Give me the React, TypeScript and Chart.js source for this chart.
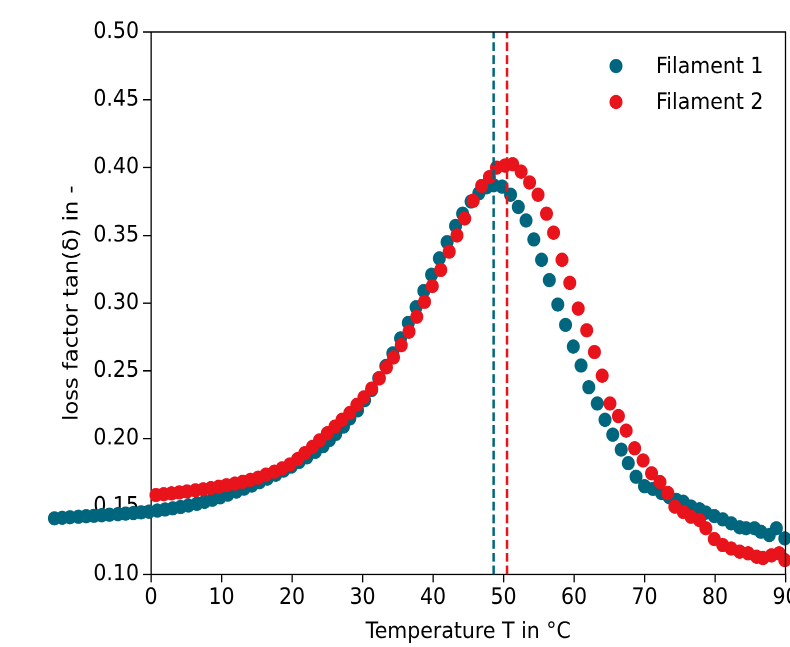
import React, { useEffect, useRef } from 'react';
import { Chart, registerables } from 'chart.js';

Chart.register(...registerables);

// ---- data ----
const seriesLabels = ['Filament 1', 'Filament 2'];
const seriesColors = ['#00667d', '#e8131b'];

const f1Temp = [
  -13.7, -12.6, -11.5, -10.3, -9.2, -8.1, -7.0, -5.9, -4.7, -3.6, -2.5, -1.4, -0.3,
  0.9, 2.0, 3.1, 4.2, 5.3, 6.5, 7.6, 8.7, 9.8, 10.9, 12.1, 13.2, 14.3, 15.4, 16.5, 17.7, 18.8, 19.9,
  21.0, 22.1, 23.3, 24.4, 25.3,
  26.2, 27.3, 28.2, 29.3, 30.3, 31.3, 32.3, 33.3, 34.3, 35.4, 36.5, 37.6, 38.7, 39.8, 40.9, 42.0, 43.2, 44.2, 45.4, 46.5, 47.6, 48.6,
  49.8, 51.0, 52.1, 53.2, 54.3, 55.4, 56.5, 57.7, 58.8, 59.9, 61.0, 62.1, 63.3, 64.4, 65.5, 66.7, 67.7, 68.8, 70.0,
  71.2, 72.4, 73.5, 74.5, 75.5, 76.6, 77.8, 78.7, 79.9, 81.1, 82.3, 83.5, 84.4, 85.6, 86.5, 87.7, 88.7, 89.9,
];
const f1Tan = [
  0.1413, 0.1417, 0.1421, 0.1425, 0.1429, 0.1432, 0.1436, 0.1440, 0.1444, 0.1448, 0.1452, 0.1457, 0.1462,
  0.1470, 0.1478, 0.1487, 0.1497, 0.1508, 0.1520, 0.1535, 0.1550, 0.1568, 0.1588, 0.1610, 0.1632, 0.1655, 0.1680, 0.1706, 0.1735, 0.1765, 0.1795,
  0.1828, 0.1863, 0.1903, 0.1945, 0.1990,
  0.2035, 0.2090, 0.2150, 0.2210, 0.2285, 0.2360, 0.2446, 0.2536, 0.2630, 0.2740, 0.2855, 0.2970, 0.3090, 0.3210, 0.3330, 0.3450, 0.3570, 0.3660, 0.3750, 0.3810, 0.3855, 0.3870,
  0.3860, 0.3800, 0.3710, 0.3610, 0.3470, 0.3320, 0.3170, 0.2990, 0.2840, 0.2680, 0.2540, 0.2380, 0.2260, 0.2140, 0.2030, 0.1920, 0.1820, 0.1720, 0.1650,
  0.1630, 0.1600, 0.1570, 0.1550, 0.1535, 0.1500, 0.1480, 0.1455, 0.1430, 0.1405, 0.1376, 0.1347, 0.1340, 0.1340, 0.1314, 0.1290, 0.1340, 0.1265,
];

const f2Temp = [
  0.7, 1.8, 2.9, 4.0, 5.1, 6.3, 7.4, 8.5, 9.6, 10.7, 11.9, 13.0, 14.1, 15.2, 16.3, 17.5, 18.6, 19.7,
  20.8, 21.8, 22.9, 23.9, 25.0, 26.1, 27.1, 28.2, 29.2, 30.2, 31.3, 32.4, 33.4, 34.4, 35.5, 36.6, 37.7, 38.8, 39.9, 41.1, 42.3, 43.4, 44.5, 45.7, 46.9, 48.0,
  49.0, 50.2, 51.3, 52.5, 53.7, 54.9, 56.1, 57.1, 58.3, 59.4, 60.6, 61.8, 62.9, 64.0, 65.1, 66.3, 67.4, 68.6, 69.8, 71.0, 72.2, 73.3,
  74.3, 75.5, 76.6, 77.8, 78.7, 79.9, 81.1, 82.3, 83.5, 84.7, 85.9, 86.8, 88.0, 89.1, 89.9,
];
const f2Tan = [
  0.1585, 0.1591, 0.1597, 0.1604, 0.1611, 0.1619, 0.1627, 0.1636, 0.1646, 0.1657, 0.1669, 0.1682, 0.1697, 0.1713, 0.1735, 0.1757, 0.1782, 0.1810,
  0.1850, 0.1893, 0.1940, 0.1988, 0.2040, 0.2090, 0.2140, 0.2190, 0.2250, 0.2305, 0.2370, 0.2446, 0.2527, 0.2600, 0.2690, 0.2790, 0.2900, 0.3010, 0.3126, 0.3245, 0.3380, 0.3500, 0.3625, 0.3755, 0.3865, 0.3930,
  0.4000, 0.4015, 0.4025, 0.3970, 0.3890, 0.3800, 0.3660, 0.3520, 0.3320, 0.3150, 0.2960, 0.2800, 0.2640, 0.2465, 0.2260, 0.2167, 0.2060, 0.1930, 0.1840, 0.1745, 0.1680, 0.1600,
  0.1500, 0.1460, 0.1425, 0.1400, 0.1340, 0.1260, 0.1216, 0.1190, 0.1167, 0.1155, 0.1130, 0.1120, 0.1140, 0.1155, 0.1105,
];

const peakTemps = [48.6, 50.5];
const xRange = [0, 90];
const yRange = [0.1, 0.5];
const xStep = 10;
const yStep = 0.05;
const xTitle = 'Temperature T in °C';
const yTitle = 'loss factor tan(δ) in -';

// ---- layout constants (canvas coordinates, before vertical stretch) ----
const STRETCH = 1.1;
const CW = 840;
const CH = 588;
const FONT = 'DejaVu Sans';
const FS = 20.5;
const PLOT_LEFT = 151;
const PLOT_RIGHT = 785.5;
const PLOT_TOP = 29.1;
const PLOT_BOTTOM = 522.1;
const DOT_R = 6.5;

const zip = (xs: number[], ys: number[]) => xs.map((x, i) => ({ x, y: ys[i] }));

const widenAreaPlugin = {
  id: 'widenArea',
  beforeDatasetsDraw(chart: any) {
    chart.$savedArea = chart.chartArea;
    chart.chartArea = { left: -1000, top: -1000, right: 3000, bottom: 3000, width: 4000, height: 4000 };
  },
  afterDatasetsDraw(chart: any) {
    if (chart.$savedArea) chart.chartArea = chart.$savedArea;
  },
};

const framePlugin = {
  id: 'frameAndLegend',
  afterDraw(chart: any) {
    const { ctx, chartArea } = chart;
    ctx.save();
    ctx.strokeStyle = '#000';
    ctx.lineWidth = 1.3;
    ctx.beginPath();
    ctx.moveTo(chartArea.left, chartArea.top);
    ctx.lineTo(chartArea.right, chartArea.top);
    ctx.lineTo(chartArea.right, chartArea.bottom);
    ctx.stroke();
    // legend
    const rows = [60, 92.7];
    ctx.font = `${FS}px "${FONT}"`;
    ctx.textBaseline = 'middle';
    ctx.textAlign = 'left';
    seriesLabels.forEach((lab, i) => {
      ctx.fillStyle = seriesColors[i];
      ctx.beginPath();
      ctx.arc(616, rows[i], DOT_R, 0, Math.PI * 2);
      ctx.fill();
      ctx.fillStyle = '#000';
      ctx.fillText(lab, 656, rows[i] + 1);
    });
    ctx.restore();
  },
};

export default function App() {
  const ref = useRef<HTMLCanvasElement | null>(null);

  useEffect(() => {
    if (!ref.current) return;
    Chart.defaults.font.family = FONT;
    Chart.defaults.font.size = FS;
    Chart.defaults.color = '#000';

    const chart = new Chart(ref.current, {
      type: 'scatter',
      data: {
        datasets: [
          {
            label: seriesLabels[0] + ' peak',
            data: [{ x: peakTemps[0], y: yRange[0] }, { x: peakTemps[0], y: yRange[1] }],
            showLine: true,
            borderColor: seriesColors[0],
            borderWidth: 2.5,
            borderDash: [8, 3.6],
            pointRadius: 0,
            clip: false,
            order: 0,
          },
          {
            label: seriesLabels[1] + ' peak',
            data: [{ x: peakTemps[1], y: yRange[0] }, { x: peakTemps[1], y: yRange[1] }],
            showLine: true,
            borderColor: seriesColors[1],
            borderWidth: 2.5,
            borderDash: [8, 3.6],
            pointRadius: 0,
            clip: false,
            order: 0,
          },
          {
            label: seriesLabels[1],
            data: zip(f2Temp, f2Tan),
            backgroundColor: seriesColors[1],
            borderWidth: 0,
            pointRadius: DOT_R,
            clip: false,
            order: 1,
          },
          {
            label: seriesLabels[0],
            data: zip(f1Temp, f1Tan),
            backgroundColor: seriesColors[0],
            borderWidth: 0,
            pointRadius: DOT_R,
            clip: false,
            order: 2,
          },
        ],
      },
      options: {
        animation: false,
        responsive: false,
        devicePixelRatio: 2,
        layout: { padding: { left: 0, top: PLOT_TOP, right: CW - PLOT_RIGHT, bottom: 0 } },
        plugins: { legend: { display: false }, tooltip: { enabled: false } },
        events: [],
        scales: {
          x: {
            type: 'linear',
            z: 1,
            afterDataLimits: (s: any) => { s.min = xRange[0]; s.max = xRange[1]; },
            afterFit: (s: any) => { s.height = CH - PLOT_BOTTOM; },
            ticks: { stepSize: xStep, padding: 2, maxRotation: 0, color: '#000', font: { size: FS, family: FONT } },
            grid: { drawOnChartArea: false, color: '#000', tickLength: 7.3, lineWidth: 1.3 },
            border: { display: true, color: '#000', width: 1.3 },
            title: { display: true, text: xTitle, color: '#000', font: { size: FS, family: FONT }, padding: { top: 0, bottom: 1.2 } },
          },
          y: {
            type: 'linear',
            z: 1,
            min: yRange[0],
            max: yRange[1],
            afterFit: (s: any) => { s.width = PLOT_LEFT; },
            ticks: { stepSize: yStep, padding: 4, color: '#000', font: { size: FS, family: FONT }, callback: (v: any) => Number(v).toFixed(2) },
            grid: { drawOnChartArea: false, color: '#000', tickLength: 8, lineWidth: 1.3 },
            border: { display: true, color: '#000', width: 1.3 },
            title: { display: true, text: yTitle, color: '#000', font: { size: FS, family: FONT }, padding: { top: 59.7, bottom: 0 } },
          },
        },
      },
      plugins: [widenAreaPlugin, framePlugin],
    } as any);

    return () => chart.destroy();
  }, []);

  return (
    <div style={{ position: 'fixed', left: 0, top: 0, width: 790, height: 647, overflow: 'hidden', background: '#fff' }}>
      <canvas
        ref={ref}
        width={CW}
        height={CH}
        style={{ display: 'block', width: CW + 'px', height: CH + 'px', transform: `scaleY(${STRETCH})`, transformOrigin: '0 0' }}
      />
    </div>
  );
}
